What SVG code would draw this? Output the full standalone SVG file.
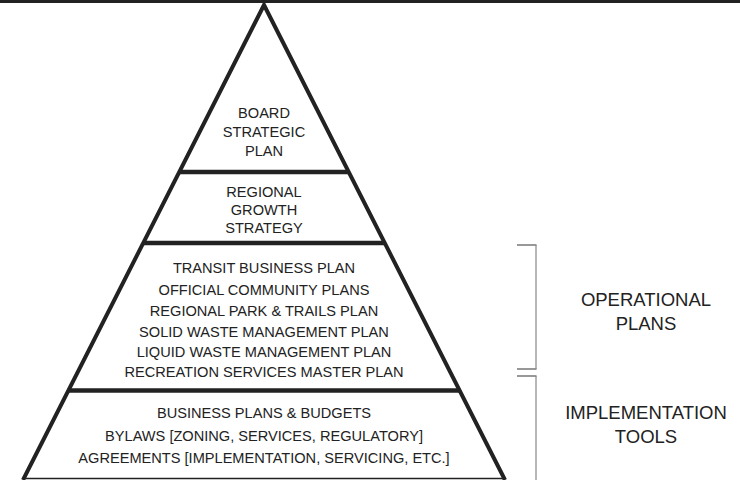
<svg xmlns="http://www.w3.org/2000/svg" width="740" height="480" viewBox="0 0 740 480">
<style>
.t{font-family:"Liberation Sans",Arial,sans-serif;font-size:14.6px;fill:#222;text-anchor:middle}
.r{font-family:"Liberation Sans",Arial,sans-serif;font-size:18.5px;fill:#222;text-anchor:middle}
.side{stroke:#222;stroke-width:4;fill:none;stroke-linejoin:miter}
.div{stroke:#222;stroke-width:4.5}
.bh{stroke:#333;stroke-width:1.2;fill:none}
.bv{stroke:#888;stroke-width:1.2;fill:none}
</style>
<rect x="0" y="0" width="740" height="480" fill="#fff"/>
<rect x="0" y="0" width="740" height="3" fill="#222"/>
<g id="pyramid-outline">
<polyline class="side" points="23,480 264,5 505,480"/>
<line x1="24" y1="478.5" x2="504" y2="478.5" stroke="#222" stroke-width="1.5"/>
</g>
<g id="connectors">
<line class="div" x1="179.3" y1="172" x2="348.7" y2="172"/>
<line class="div" x1="143.3" y1="243" x2="384.7" y2="243"/>
<line class="div" x1="68.6" y1="390.5" x2="459.4" y2="390.5"/>
<path class="bh" d="M517,245 H536.5 M517,369 H536.5 M517,376 H536.5"/>
<path class="bv" d="M536,245 V369 M536,376 V480"/>
</g>
<g id="board-strategic-plan">
<text class="t" x="264" y="118">BOARD</text>
<text class="t" x="264" y="137">STRATEGIC</text>
<text class="t" x="264" y="155.5">PLAN</text>
</g>
<g id="regional-growth-strategy">
<text class="t" x="264" y="197">REGIONAL</text>
<text class="t" x="264" y="215">GROWTH</text>
<text class="t" x="264" y="233">STRATEGY</text>
</g>
<g id="operational-plans-tier">
<text class="t" x="264" y="273">TRANSIT BUSINESS PLAN</text>
<text class="t" x="264" y="294.5">OFFICIAL COMMUNITY PLANS</text>
<text class="t" x="264" y="316">REGIONAL PARK &amp; TRAILS PLAN</text>
<text class="t" x="264" y="336.5">SOLID WASTE MANAGEMENT PLAN</text>
<text class="t" x="264" y="356.5">LIQUID WASTE MANAGEMENT PLAN</text>
<text class="t" x="264" y="376.5">RECREATION SERVICES MASTER PLAN</text>
</g>
<g id="implementation-tier">
<text class="t" x="264" y="418">BUSINESS PLANS &amp; BUDGETS</text>
<text class="t" x="264" y="441">BYLAWS [ZONING, SERVICES, REGULATORY]</text>
<text class="t" x="264" y="463">AGREEMENTS [IMPLEMENTATION, SERVICING, ETC.]</text>
</g>
<g id="operational-plans-label">
<text class="r" x="646" y="306">OPERATIONAL</text>
<text class="r" x="646" y="330">PLANS</text>
</g>
<g id="implementation-tools-label">
<text class="r" x="646" y="419">IMPLEMENTATION</text>
<text class="r" x="646" y="443">TOOLS</text>
</g>
</svg>
